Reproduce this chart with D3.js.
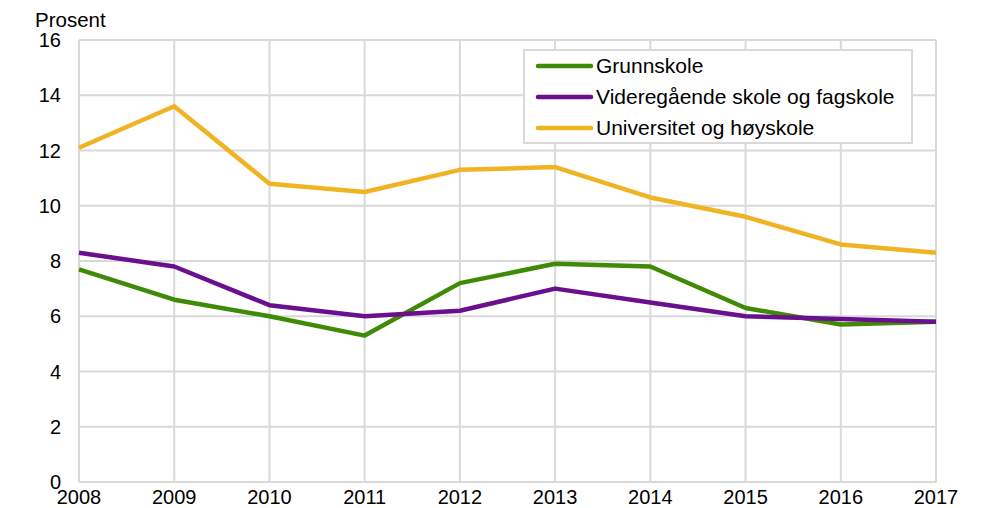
<!DOCTYPE html>
<html>
<head>
<meta charset="utf-8">
<script src="https://cdn.jsdelivr.net/npm/d3@7"></script>
<style>
  body { margin: 0; background: #fff; }
  svg { display: block; font-family: "Liberation Sans", Arial, sans-serif; }
</style>
</head>
<body>
<svg width="992" height="508"></svg>
<script>
const years = [2008, 2009, 2010, 2011, 2012, 2013, 2014, 2015, 2016, 2017];
const grunnskole = [7.7, 6.6, 6.0, 5.3, 7.2, 7.9, 7.8, 6.3, 5.7, 5.8];
const videregaende = [8.3, 7.8, 6.4, 6.0, 6.2, 7.0, 6.5, 6.0, 5.9, 5.8];
const universitet = [12.1, 13.6, 10.8, 10.5, 11.3, 11.4, 10.3, 9.6, 8.6, 8.3];
const yTicks = [0, 2, 4, 6, 8, 10, 12, 14, 16];
const seriesNames = ["Grunnskole", "Videregående skole og fagskole", "Universitet og høyskole"];

const series = [
  { name: seriesNames[0], values: grunnskole, color: "#3f8a06" },
  { name: seriesNames[1], values: videregaende, color: "#6a0f8e" },
  { name: seriesNames[2], values: universitet, color: "#f0b323" },
];

const svg = d3.select("svg");
const grid = "#d9d9d9";

const x = d3.scaleLinear().domain([2008, 2017]).range([79, 936]);
const y = d3.scaleLinear().domain([0, 16]).range([482, 40]);

// gridlines
svg.append("g")
  .selectAll("line")
  .data(yTicks)
  .join("line")
  .attr("x1", x(2008)).attr("x2", x(2017))
  .attr("y1", d => y(d)).attr("y2", d => y(d))
  .attr("stroke", grid).attr("stroke-width", 2);

svg.append("g")
  .selectAll("line")
  .data(years)
  .join("line")
  .attr("x1", d => x(d)).attr("x2", d => x(d))
  .attr("y1", y(0)).attr("y2", y(16))
  .attr("stroke", grid).attr("stroke-width", 2);

// axis labels
svg.append("g")
  .selectAll("text")
  .data(yTicks)
  .join("text")
  .attr("x", 61)
  .attr("y", d => y(d))
  .attr("dy", "0.35em")
  .attr("text-anchor", "end")
  .attr("font-size", 20)
  .attr("fill", "#000")
  .text(d => d);

svg.append("g")
  .selectAll("text")
  .data(years)
  .join("text")
  .attr("x", d => x(d))
  .attr("y", 497)
  .attr("dy", "0.35em")
  .attr("text-anchor", "middle")
  .attr("font-size", 20)
  .attr("fill", "#000")
  .text(d => d);

svg.append("text")
  .attr("x", 35).attr("y", 27)
  .attr("font-size", 20.5)
  .text("Prosent");

// lines
const line = d3.line()
  .x((d, i) => x(years[i]))
  .y(d => y(d));

svg.append("g")
  .selectAll("path")
  .data(series)
  .join("path")
  .attr("d", d => line(d.values))
  .attr("fill", "none")
  .attr("stroke", d => d.color)
  .attr("stroke-width", 4.5)
  .attr("stroke-linejoin", "round");

// legend
const lg = svg.append("g");
lg.append("rect")
  .attr("x", 524).attr("y", 50)
  .attr("width", 388).attr("height", 93)
  .attr("fill", "#fff")
  .attr("stroke", grid).attr("stroke-width", 2);

const rows = lg.selectAll("g.row")
  .data(series)
  .join("g")
  .attr("class", "row")
  .attr("transform", (d, i) => `translate(0,${66 + i * 31})`);

rows.append("line")
  .attr("x1", 538).attr("x2", 591)
  .attr("stroke", d => d.color)
  .attr("stroke-width", 4.5)
  .attr("stroke-linecap", "round");

rows.append("text")
  .attr("x", 596)
  .attr("dy", "0.35em")
  .attr("font-size", 21)
  .text(d => d.name);
</script>
</body>
</html>
